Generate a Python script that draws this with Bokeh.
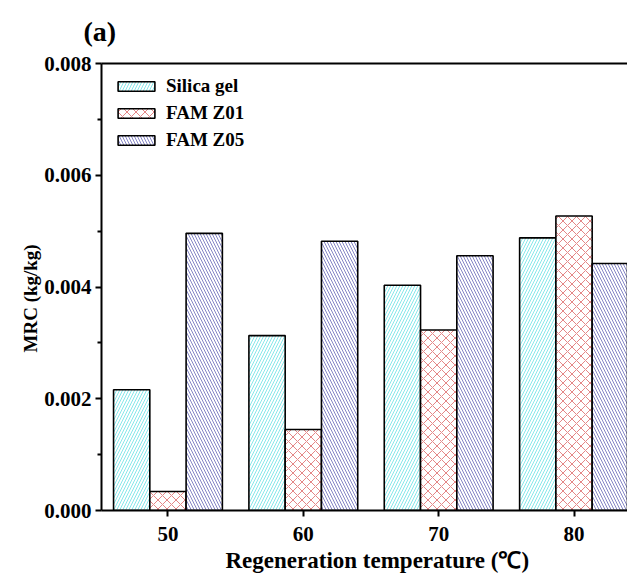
from bokeh.plotting import figure
from bokeh.models import (ColumnDataSource, Range1d, FixedTicker, NumeralTickFormatter,
                          LinearAxis, Legend, Title)
from bokeh.transform import dodge
from bokeh.embed import file_html
from bokeh.resources import INLINE

# ---- data ----
temps = [50, 60, 70, 80]
silica_gel = [0.00216, 0.00313, 0.00403, 0.00488]
fam_z01 = [0.00034, 0.00145, 0.00323, 0.00527]
fam_z05 = [0.00496, 0.00482, 0.00456, 0.00442]
series_names = ["Silica gel", "FAM Z01", "FAM Z05"]
y_ticks = [0.000, 0.002, 0.004, 0.006, 0.008]
y_minor = [0.001, 0.003, 0.005, 0.007]
x_title = "Regeneration temperature (℃)"
y_title = "MRC (kg/kg)"
panel_tag = "(a)"

FONT = "Liberation Serif"
X_START, X_END = 45.09, 83.95
BAR_W = 2.68

src = ColumnDataSource(dict(temp=temps, s=silica_gel, z1=fam_z01, z5=fam_z05))

p = figure(width=627, height=576, output_backend="svg", toolbar_location=None,
           x_range=Range1d(X_START, X_END), y_range=Range1d(0, 0.008),
           min_border_left=101, min_border_right=0, min_border_top=62, min_border_bottom=66,
           x_axis_type=None, y_axis_type=None)
p.outline_line_color = None
p.xgrid.visible = False
p.ygrid.visible = False
p.background_fill_color = "white"

styles = [
    ("s", -BAR_W, "right_diagonal_line", "#86e8ea", 6),
    ("z1", 0.0, "diagonal_cross", "#e48686", 9),
    ("z5", BAR_W, "left_diagonal_line", "#8585c6", 6),
]
items = []
for (col, off, pat, hc, hs), name in zip(styles, series_names):
    r = p.vbar(x=dodge("temp", off), top=col, bottom=0, width=BAR_W, source=src,
               fill_color="white", line_color="black", line_width=1.6,
               hatch_pattern=pat, hatch_color=hc, hatch_scale=hs, hatch_weight=1)
    items.append((name, [r]))

def style_axis(ax):
    ax.axis_line_width = 2
    ax.axis_line_color = "black"
    ax.major_tick_line_width = 2
    ax.minor_tick_line_width = 2
    ax.major_tick_out = 6
    ax.major_tick_in = 0
    ax.minor_tick_out = 4
    ax.minor_tick_in = 0
    ax.major_label_text_font = FONT
    ax.major_label_text_font_style = "bold"
    ax.major_label_text_font_size = "21px"
    ax.major_label_text_color = "black"

yax = LinearAxis(ticker=FixedTicker(ticks=y_ticks, minor_ticks=y_minor),
                 formatter=NumeralTickFormatter(format="0.000"))
style_axis(yax)
yax.major_label_standoff = 4
p.add_layout(yax, "left")

xax = LinearAxis(ticker=FixedTicker(ticks=temps, minor_ticks=[]))
style_axis(xax)
xax.major_label_standoff = 10
p.add_layout(xax, "below")

top_ax = LinearAxis(ticker=FixedTicker(ticks=[], minor_ticks=[]))
top_ax.axis_line_width = 2
top_ax.major_label_text_font_size = "0px"
top_ax.major_label_standoff = 0
top_ax.major_tick_out = 0
top_ax.minor_tick_out = 0
p.add_layout(top_ax, "above")

legend = Legend(items=items, location="top_left", margin=12, padding=0,
                glyph_width=46, glyph_height=12, label_height=20, spacing=5,
                label_standoff=7, label_text_font=FONT, label_text_font_style="bold",
                label_text_font_size="19px", label_text_color="black",
                border_line_color=None, background_fill_alpha=0)
p.add_layout(legend)

def title(text, size, align, offset, standoff, valign="bottom"):
    return Title(text=text, align=align, offset=offset, standoff=standoff,
                 vertical_align=valign,
                 text_font=FONT, text_font_style="bold", text_font_size=size,
                 text_color="black")

p.add_layout(title(y_title, "19px", "left", 158, 2), "left")
p.add_layout(title(x_title, "23px", "left", 124, 5), "below")
p.add_layout(title(panel_tag, "28px", "left", -18, 30, "top"), "above")

open("out.html", "w").write(file_html(p, INLINE))
